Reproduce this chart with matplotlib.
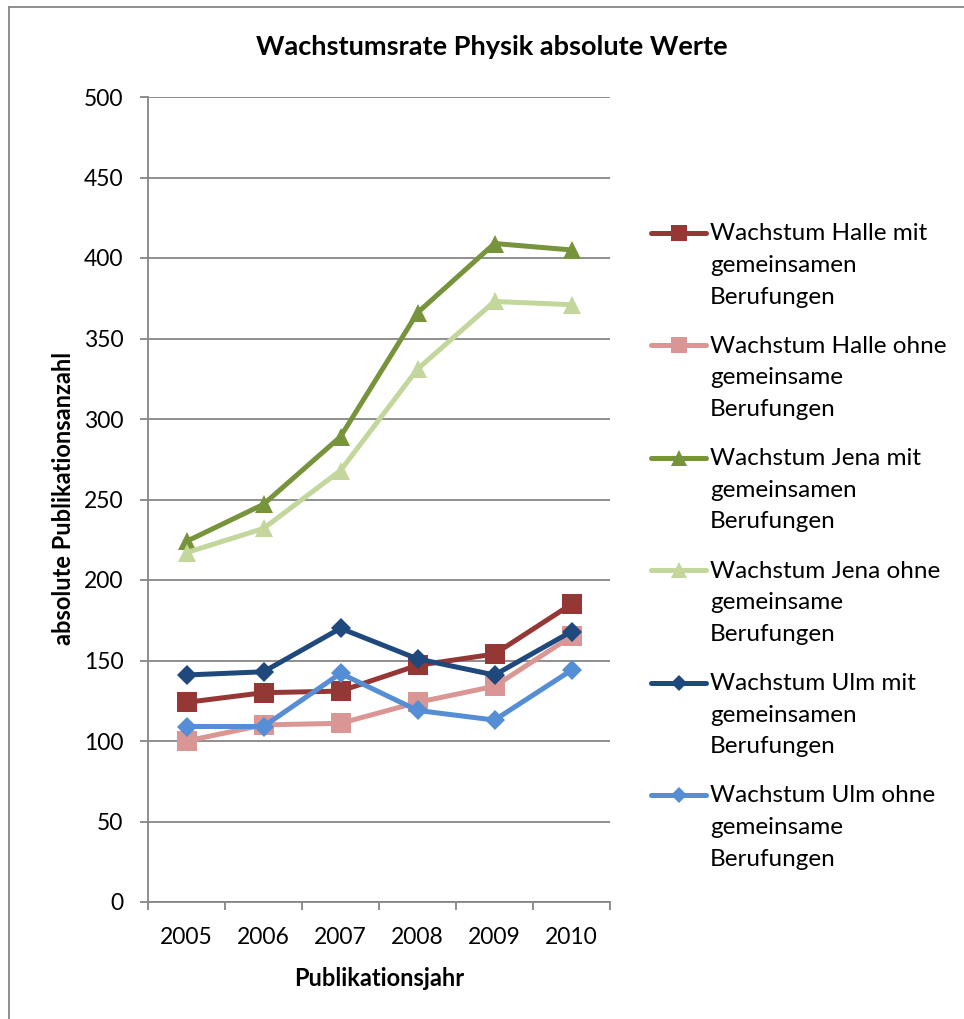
import matplotlib
matplotlib.use("Agg")
import matplotlib.pyplot as plt
from matplotlib.lines import Line2D
from matplotlib.ticker import FixedLocator

plt.rcParams['font.family'] = ['Lato', 'DejaVu Sans']

# ---- data ----
years = ['2005', '2006', '2007', '2008', '2009', '2010']
halle_mit = [124, 130, 131, 147, 154, 185]
halle_ohne = [100, 110, 111, 124, 134, 165]
jena_mit = [224, 247, 289, 366, 409, 405]
jena_ohne = [217, 232, 268, 331, 373, 371]
ulm_mit = [141, 143, 170, 151, 141, 168]
ulm_ohne = [109, 109, 142, 119, 113, 144]

series_labels = [
    "Wachstum Halle mit\ngemeinsamen\nBerufungen",
    "Wachstum Halle ohne\ngemeinsame\nBerufungen",
    "Wachstum Jena mit\ngemeinsamen\nBerufungen",
    "Wachstum Jena ohne\ngemeinsame\nBerufungen",
    "Wachstum Ulm mit\ngemeinsamen\nBerufungen",
    "Wachstum Ulm ohne\ngemeinsame\nBerufungen",
]
series_values = [halle_mit, halle_ohne, jena_mit, jena_ohne, ulm_mit, ulm_ohne]
colors = ['#953735', '#D99694', '#77933C', '#C3D69B', '#1F497D', '#558ED5']
markers = ['s', 's', '^', '^', 'D', 'D']
msizes = [14, 14, 13, 13, 10.5, 10.5]
leg_msizes = [12, 12, 11, 11, 8.5, 8.5]

W, H = 964, 1019
GRID = '#868686'

fig = plt.figure(figsize=(W / 100, H / 100), dpi=100)
ax = fig.add_axes([148 / W, (H - 902) / H, 462 / W, 805 / H])

x = list(range(len(years)))
for vals, c, m, ms in zip(series_values, colors, markers, msizes):
    ax.plot(x, vals, color=c, lw=3.6, marker=m, markersize=ms,
            markeredgewidth=0, solid_joinstyle='miter', zorder=3)

ax.set_xlim(-0.5, len(years) - 0.5)
ax.set_ylim(0, 500)
ax.set_yticks(range(0, 501, 50))
ax.set_xticks(x)
ax.set_xticklabels(years)
ax.xaxis.set_minor_locator(FixedLocator([i - 0.5 for i in range(len(years) + 1)]))

ax.grid(axis='y', color=GRID, lw=1.3)
ax.set_axisbelow(True)
for s in ['top', 'right']:
    ax.spines[s].set_visible(False)
for s in ['left', 'bottom']:
    ax.spines[s].set_color(GRID)
    ax.spines[s].set_linewidth(1.3)

ax.tick_params(axis='y', which='major', length=5.8, width=1.3, color=GRID,
               pad=12, labelsize=16.5)
ax.tick_params(axis='x', which='major', length=0, pad=18, labelsize=16.5)
ax.tick_params(axis='x', which='minor', length=5.8, width=1.3, color=GRID)

ax.set_title("Wachstumsrate Physik absolute Werte", fontsize=19.5,
             fontweight='bold', x=(492 - 148) / 462, y=(902 - 55) / 805, pad=0)
ax.set_xlabel("Publikationsjahr", fontsize=17, fontweight='bold')
ax.xaxis.set_label_coords((379 - 148) / 462, (902 - 967) / 805)
ax.set_ylabel("absolute Publikationsanzahl", fontsize=17, fontweight='bold')
ax.yaxis.set_label_coords((75 - 148) / 462, (902 - 498) / 805)

# ---- legend (drawn manually) ----
for i, (lab, c, m, ms) in enumerate(zip(series_labels, colors, markers, leg_msizes)):
    ly = 233 + 112.4 * i
    fig.add_artist(Line2D([651 / W, 706 / W], [1 - ly / H, 1 - ly / H],
                          transform=fig.transFigure, color=c, lw=3.6,
                          solid_capstyle='round'))
    fig.add_artist(Line2D([678.5 / W], [1 - ly / H], transform=fig.transFigure,
                          color=c, marker=m, markersize=ms, markeredgewidth=0))
    for j, line in enumerate(lab.split('\n')):
        by = ly + 7.5 + 31.5 * j
        fig.text(710 / W, 1 - by / H, line, fontsize=17.5, ha='left',
                 va='baseline', color='black')

# ---- chart border ----
fig.add_artist(Line2D([9 / W, 9 / W], [1 - 7 / H, 0], transform=fig.transFigure,
                      color=GRID, lw=1.3))
fig.add_artist(Line2D([9 / W, 1], [1 - 7 / H, 1 - 7 / H], transform=fig.transFigure,
                      color=GRID, lw=1.3))

fig.savefig("out.png", dpi=100)
